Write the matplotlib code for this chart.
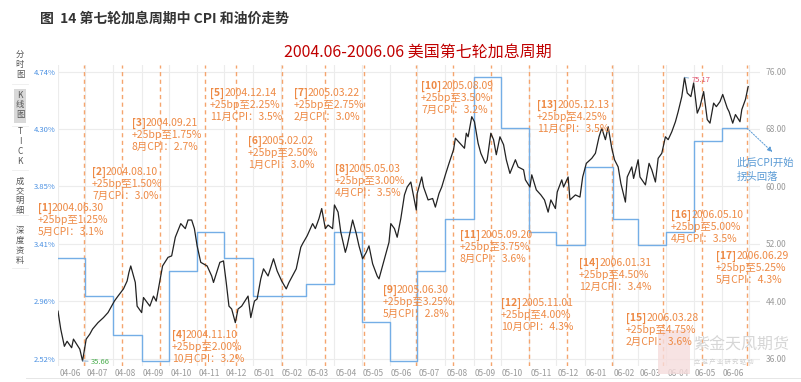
import matplotlib
matplotlib.use('Agg')
import matplotlib.pyplot as plt
import matplotlib.dates as mdates
import numpy as np
import pandas as pd
from matplotlib.patches import Rectangle
from matplotlib.lines import Line2D

plt.rcParams['font.family'] = ['Noto Sans CJK SC', 'DejaVu Sans']

# oil price (USD/bbl)
oil_dates = [
    '2004-06-01', '2004-06-04', '2004-06-08', '2004-06-11', '2004-06-16', '2004-06-18', '2004-06-23', '2004-06-25',
    '2004-06-28', '2004-07-02', '2004-07-06', '2004-07-09', '2004-07-15', '2004-07-21', '2004-07-26', '2004-08-02',
    '2004-08-06', '2004-08-12', '2004-08-16', '2004-08-18', '2004-08-20', '2004-08-25', '2004-08-27', '2004-09-01',
    '2004-09-03', '2004-09-10', '2004-09-14', '2004-09-17', '2004-09-21', '2004-09-24', '2004-09-30', '2004-10-04',
    '2004-10-08', '2004-10-14', '2004-10-19', '2004-10-22', '2004-10-26', '2004-10-29', '2004-11-01', '2004-11-05',
    '2004-11-12', '2004-11-17', '2004-11-19', '2004-11-26', '2004-11-30', '2004-12-03', '2004-12-06', '2004-12-09',
    '2004-12-13', '2004-12-16', '2004-12-20', '2004-12-27', '2004-12-30', '2005-01-03', '2005-01-06', '2005-01-10',
    '2005-01-13', '2005-01-18', '2005-01-21', '2005-01-24', '2005-01-28', '2005-02-02', '2005-02-07', '2005-02-10',
    '2005-02-15', '2005-02-18', '2005-02-23', '2005-02-25', '2005-03-02', '2005-03-08', '2005-03-11', '2005-03-15',
    '2005-03-18', '2005-03-22', '2005-03-25', '2005-03-30', '2005-04-01', '2005-04-05', '2005-04-08', '2005-04-13',
    '2005-04-15', '2005-04-21', '2005-04-25', '2005-04-28', '2005-05-02', '2005-05-06', '2005-05-09', '2005-05-13',
    '2005-05-18', '2005-05-20', '2005-05-26', '2005-05-31', '2005-06-02', '2005-06-06', '2005-06-09', '2005-06-13',
    '2005-06-17', '2005-06-20', '2005-06-24', '2005-06-30', '2005-07-01', '2005-07-06', '2005-07-08', '2005-07-13',
    '2005-07-18', '2005-07-21', '2005-07-25', '2005-07-28', '2005-08-01', '2005-08-05', '2005-08-10', '2005-08-12',
    '2005-08-17', '2005-08-22', '2005-08-24', '2005-08-26', '2005-08-30', '2005-09-02', '2005-09-06', '2005-09-09',
    '2005-09-14', '2005-09-16', '2005-09-20', '2005-09-23', '2005-09-26', '2005-09-30', '2005-10-04', '2005-10-07',
    '2005-10-11', '2005-10-17', '2005-10-20', '2005-10-26', '2005-10-28', '2005-11-02', '2005-11-04', '2005-11-09',
    '2005-11-14', '2005-11-18', '2005-11-22', '2005-11-25', '2005-11-30', '2005-12-02', '2005-12-07', '2005-12-09',
    '2005-12-14', '2005-12-16', '2005-12-22', '2005-12-27', '2005-12-30', '2006-01-03', '2006-01-09', '2006-01-13',
    '2006-01-17', '2006-01-20', '2006-01-24', '2006-01-27', '2006-01-31', '2006-02-03', '2006-02-07', '2006-02-10',
    '2006-02-15', '2006-02-17', '2006-02-22', '2006-02-24', '2006-03-01', '2006-03-03', '2006-03-09', '2006-03-13',
    '2006-03-16', '2006-03-20', '2006-03-23', '2006-03-27', '2006-03-31', '2006-04-03', '2006-04-07', '2006-04-11',
    '2006-04-14', '2006-04-18', '2006-04-21', '2006-04-24', '2006-04-28', '2006-05-01', '2006-05-05', '2006-05-08',
    '2006-05-12', '2006-05-16', '2006-05-19', '2006-05-23', '2006-05-26', '2006-05-30', '2006-06-02', '2006-06-07',
    '2006-06-09', '2006-06-13', '2006-06-16', '2006-06-21', '2006-06-23', '2006-06-27', '2006-06-30',
]
oil_vals = [
    42.6, 40.1, 37.7, 38.4, 37.5, 38.7, 37.7, 37.3,
    35.66, 38.7, 39.4, 40.1, 41.0, 41.7, 42.4, 44.0,
    44.7, 45.7, 46.8, 48.0, 48.9, 46.6, 43.3, 42.4,
    44.5, 43.3, 44.7, 44.0, 46.8, 48.9, 50.1, 50.3,
    52.9, 54.8, 54.1, 55.3, 55.3, 54.1, 51.7, 49.4,
    48.9, 47.5, 46.6, 49.4, 49.6, 46.6, 43.3, 42.9,
    41.0, 42.9, 43.3, 44.7, 41.7, 44.0, 44.3, 47.1,
    48.5, 47.5, 48.7, 49.9, 48.2, 46.8, 45.7, 46.6,
    47.8, 48.5, 51.5, 52.0, 53.1, 54.8, 54.1, 55.5,
    56.9, 54.1, 54.6, 54.1, 57.4, 56.4, 53.6, 50.8,
    51.7, 55.3, 53.4, 51.7, 49.9, 50.8, 51.7, 49.2,
    47.5, 47.1, 49.9, 52.2, 54.8, 54.1, 52.9, 55.5,
    58.8, 59.9, 60.6, 56.7, 59.0, 61.3, 59.9, 58.1,
    58.3, 57.1, 59.0, 59.9, 61.6, 63.2, 65.1, 66.7,
    66.0, 65.3, 67.4, 66.9, 69.7, 69.0, 66.0, 64.6,
    63.2, 63.7, 67.4, 66.5, 64.4, 66.9, 65.8, 63.7,
    61.8, 63.7, 62.7, 62.3, 60.9, 59.9, 61.6, 59.5,
    58.8, 58.1, 56.4, 58.1, 56.9, 59.2, 60.9, 59.9,
    61.3, 58.1, 58.8, 58.5, 61.3, 63.2, 63.9, 64.6,
    66.9, 68.1, 66.5, 68.3, 65.3, 63.7, 62.7, 60.4,
    57.8, 61.3, 62.7, 61.1, 63.7, 61.3, 60.2, 63.2,
    62.3, 60.6, 63.9, 64.6, 66.9, 66.5, 67.6, 69.0,
    70.4, 72.5, 75.17, 73.0, 72.5, 74.4, 70.2, 71.1,
    73.2, 69.3, 68.8, 71.6, 71.1, 71.8, 72.8, 70.9,
    70.4, 68.8, 70.0, 69.0, 70.7, 72.1, 73.9,
]

# US CPI yoy (%), monthly
cpi_months = ['2004-06', '2004-07', '2004-08', '2004-09', '2004-10', '2004-11', '2004-12',
              '2005-01', '2005-02', '2005-03', '2005-04', '2005-05', '2005-06', '2005-07',
              '2005-08', '2005-09', '2005-10', '2005-11', '2005-12', '2006-01', '2006-02',
              '2006-03', '2006-04', '2006-05', '2006-06']
cpi_vals = [3.3, 3.0, 2.7, 2.5, 3.2, 3.5, 3.3,
            3.0, 3.0, 3.1, 3.5, 2.8, 2.5, 3.2,
            3.6, 4.7, 4.3, 3.5, 3.4, 4.0, 3.6,
            3.4, 3.5, 4.2, 4.3]
cpi_end = '2006-06-29'

# rate hikes
hike_dates = ['2004.06.30', '2004.08.10', '2004.09.21', '2004.11.10', '2004.12.14', '2005.02.02',
              '2005.03.22', '2005.05.03', '2005.06.30', '2005.08.09', '2005.09.20', '2005.11.01',
              '2005.12.13', '2006.01.31', '2006.03.28', '2006.05.10', '2006.06.29']
hike_rates = [1.25, 1.50, 1.75, 2.00, 2.25, 2.50, 2.75, 3.00, 3.25, 3.50, 3.75, 4.00, 4.25, 4.50, 4.75, 5.00, 5.25]
ref_month = [5, 7, 8, 10, 11, 1, 2, 4, 5, 7, 8, 10, 11, 12, 2, 4, 5]
ref_cpi = [3.1, 3.0, 2.7, 3.2, 3.5, 3.0, 3.0, 3.5, 2.8, 3.2, 3.6, 4.3, 3.5, 3.4, 3.6, 3.5, 4.3]

# label anchor (px, left / first line centre)
label_pos = [(38, 208), (92, 172), (132, 123), (172, 335), (210, 93), (248, 141), (294, 93),
             (335, 169), (383, 290), (421, 86), (460, 235), (501, 303), (537, 105), (579, 263),
             (626, 318), (671, 215), (716, 256)]

W, H = 801, 382
fig = plt.figure(figsize=(W / 100, H / 100), dpi=100)


def fx(px):
    return px / W


def fy(py):
    return 1 - py / H


L, R, T, B = 58, 760, 65, 366
ax = fig.add_axes([fx(L), fy(B), fx(R) - fx(L), fy(T) - fy(B)])
ax2 = ax.twinx()

orange = '#ee8a45'
dash_c = '#f5a56e'
blue = '#74aee6'

# oil axis limits, cpi axis mapped linearly onto it
oil_lo, oil_hi = 36, 76
cpi_lo, cpi_hi = 2.52, 4.74
oil_lim = (34.955, 76.906)


def oil2cpi(v):
    return cpi_lo + (v - oil_lo) * (cpi_hi - cpi_lo) / (oil_hi - oil_lo)


ax2.set_ylim(oil_lim)
ax.set_ylim(oil2cpi(oil_lim[0]), oil2cpi(oil_lim[1]))
ax.set_yticks(np.linspace(cpi_lo, cpi_hi, 6))
ax.set_yticklabels(['%.2f%%' % v for v in np.linspace(cpi_lo, cpi_hi, 6)])
ax2.set_yticks(np.arange(oil_lo, oil_hi + 1, 8))
ax2.set_yticklabels(['%.2f' % v for v in np.arange(oil_lo, oil_hi + 1, 8)])

od = pd.to_datetime(oil_dates)
cd = list(pd.to_datetime(cpi_months)) + [pd.Timestamp(cpi_end)]
cv = cpi_vals + [cpi_vals[-1]]

ax.set_xlim(pd.Timestamp('2004-06-01'), pd.Timestamp('2006-07-13'))

# grid
ax.set_axisbelow(True)
ax.grid(axis='y', color='#ececec', lw=0.8)
ax.xaxis.set_major_locator(mdates.MonthLocator(bymonthday=14))
ax.xaxis.set_major_formatter(mdates.DateFormatter('%y-%m'))
ax.xaxis.set_minor_locator(mdates.MonthLocator(bymonthday=1))
ax.grid(axis='x', which='minor', color='#ececec', lw=0.8)

for a in (ax, ax2):
    for s in a.spines.values():
        s.set_visible(False)
    a.tick_params(length=0, which='both')
ax.tick_params(axis='y', labelsize=5.5, labelcolor='#4a90e2', pad=2)
ax2.tick_params(axis='y', labelsize=6, labelcolor='#9a9a9a', pad=4)
ax.tick_params(axis='x', labelsize=6, labelcolor='#9a9a9a', pad=2)

# hike lines
hd = pd.to_datetime(hike_dates, format='%Y.%m.%d')
for d in hd:
    ax.axvline(d, color=dash_c, lw=1, ls=(0, (3, 2.5)), zorder=1)

# CPI step line and oil line
ax.step(cd, cv, where='post', color=blue, lw=1, zorder=2)
ax2.plot(od, oil_vals, color='#222222', lw=0.9, zorder=3)

# min / max marks
imin = int(np.argmin(oil_vals))
imax = int(np.argmax(oil_vals))
ax2.annotate('%.2f' % oil_vals[imin], xy=(od[imin], oil_vals[imin]), xytext=(6, -0.5),
             textcoords='offset points', va='center', ha='left', fontsize=5.5, color='#4caf50',
             arrowprops=dict(arrowstyle='-', color='#7aa7d0', lw=0.6, shrinkA=0, shrinkB=0))
ax2.annotate('%.2f' % oil_vals[imax], xy=(od[imax], oil_vals[imax]), xytext=(5, -1.5),
             textcoords='offset points', va='center', ha='left', fontsize=5.5, color='#e0506a',
             arrowprops=dict(arrowstyle='-', color='#7aa7d0', lw=0.6, shrinkA=0, shrinkB=0))

# CPI turning note
ax.annotate('', xy=(cd[-1], cv[-1]), xytext=(18, -17), textcoords='offset points',
            arrowprops=dict(arrowstyle='<|-', color='#5b9bd5', lw=0.7, ls=(0, (1.5, 1.5)),
                            mutation_scale=7, shrinkA=0, shrinkB=0))
fig.text(fx(737), fy(163), '此后CPI开始', fontsize=7.5, color='#5b9bd5', va='center', ha='left')
fig.text(fx(737), fy(177), '拐头回落', fontsize=7.5, color='#5b9bd5', va='center', ha='left')

# hike labels
for i, (px, py) in enumerate(label_pos):
    t1 = fig.text(fx(px), fy(py), '[%d]' % (i + 1), fontsize=7.5, color=orange,
                  fontweight='bold', va='center', ha='left', zorder=5)
    ax.annotate(hike_dates[i], xy=(1, 0.5), xycoords=t1, va='center', ha='left',
                fontsize=7.5, color=orange, annotation_clip=False, zorder=5)
    fig.text(fx(px), fy(py + 12), '+25bp至%.2f%%' % hike_rates[i], fontsize=7.5, color=orange,
             va='center', ha='left', zorder=5)
    fig.text(fx(px), fy(py + 24), '%d月CPI：%.1f%%' % (ref_month[i], ref_cpi[i]), fontsize=7.5,
             color=orange, va='center', ha='left', zorder=5)

# titles
fig.text(fx(40), fy(19), '图  14 第七轮加息周期中 CPI 和油价走势', fontsize=10, fontweight='bold',
         color='#333333', va='center', ha='left')
fig.text(fx(418), fy(52), '2004.06-2006.06 美国第七轮加息周期', fontsize=11.5, color='#c00000',
         va='center', ha='center')

# side menu of the software
fig.patches.append(Rectangle((fx(14), fy(123)), fx(12), fy(89) - fy(123), transform=fig.transFigure,
                             facecolor='#d9d9d9', edgecolor='none'))
menu = [('分时图', 55), ('K线图', 95), ('TICK', 132), ('成交明细', 181), ('深度资料', 231)]
for word, y0 in menu:
    step = 9.8 if word != 'TICK' else 10
    for k, ch in enumerate(word):
        fig.text(fx(20), fy(y0 + k * step), ch, fontsize=6, color='#555555', va='center', ha='center')
for ys in (84, 126, 170, 215, 268):
    fig.lines.append(Line2D([fx(12), fx(28)], [fy(ys), fy(ys)], transform=fig.transFigure,
                            color='#eeeeee', lw=0.6))
fig.lines.append(Line2D([fx(26), 1], [fy(378), fy(378)], transform=fig.transFigure,
                        color='#e6e6e6', lw=0.7))

# watermark
fig.patches.append(Rectangle((fx(658), fy(374)), fx(32), fy(330) - fy(374), transform=fig.transFigure,
                             facecolor='#f6dcdc', edgecolor='none', alpha=0.8))
fig.text(fx(741), fy(345), '紫金天风期货', fontsize=11.5, color='#d6d6d6', va='center', ha='center')
fig.text(fx(724), fy(362), '立 足 产 业 研 究 驱 动', fontsize=4.5, color='#d0d0d0',
         va='center', ha='center')

fig.savefig('out.png', dpi=100)
